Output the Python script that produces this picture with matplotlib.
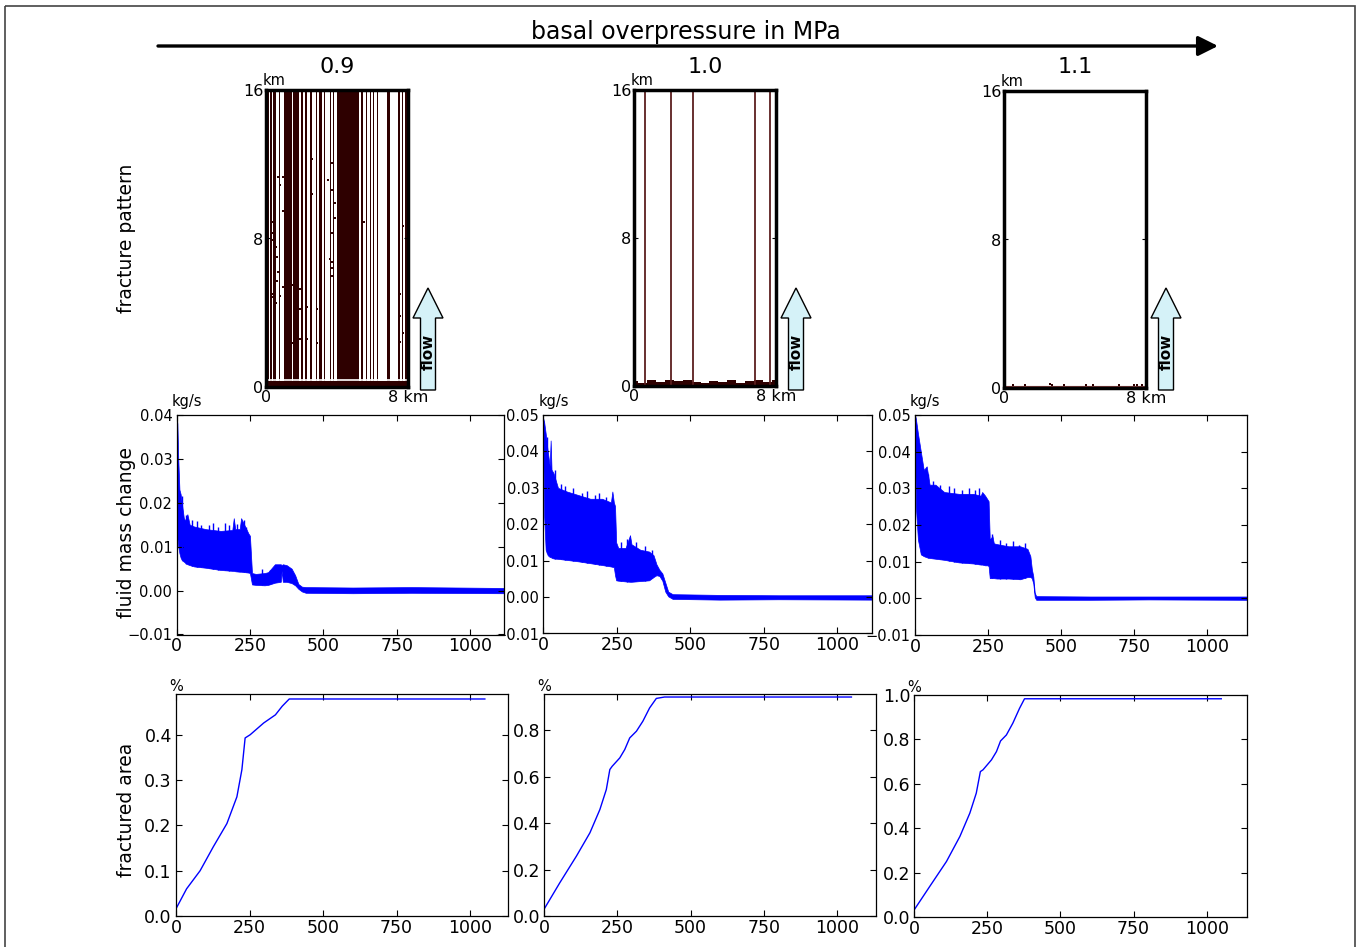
import matplotlib
matplotlib.use('Agg')
import matplotlib.pyplot as plt
import numpy as np
from matplotlib.patches import Polygon, Rectangle

W, H = 1362, 947

pressures = ['0.9', '1.0', '1.1']

# fracture pattern 0.9 MPa: dark fracture bands, km
bands_09 = [(0.0, 0.15), (0.23, 0.36), (0.41, 0.49), (0.53, 0.58), (0.73, 0.79),
            (1.04, 1.49), (1.54, 1.88), (1.96, 2.11), (2.17, 2.30), (2.49, 2.60),
            (2.79, 2.86), (2.98, 3.16), (3.28, 3.33), (3.47, 3.52), (3.62, 3.67),
            (3.77, 3.84), (3.99, 5.25), (5.35, 5.46), (5.61, 5.67), (5.84, 5.89),
            (6.03, 6.08), (6.25, 6.31), (6.82, 6.97), (7.42, 7.53), (7.68, 7.74),
            (7.85, 7.95)]
dots_09_x = [0.70, 0.98, 0.79, 0.98, 0.32, 0.51, 0.32, 0.32, 0.56, 0.60, 0.70, 0.60,
             0.98, 0.32, 0.32, 0.56, 0.79, 1.45, 1.92, 1.64, 1.92, 2.30, 2.58, 2.58,
             2.90, 3.05, 3.05, 2.90, 1.45, 1.92, 2.30, 3.05, 3.47, 3.71, 3.71, 3.86,
             3.86, 3.71, 3.58, 3.71, 3.71, 3.71, 4.84, 5.54, 7.70, 7.53, 7.53, 7.72,
             7.53, 6.85, 6.85]
dots_09_y = [11.3, 11.3, 10.9, 9.5, 8.9, 8.45, 8.3, 7.9, 7.55, 7.0, 6.2, 5.7,
             5.4, 5.0, 4.85, 4.5, 4.9, 5.5, 5.3, 9.4, 4.2, 4.3, 12.3, 10.4,
             4.2, 4.4, 3.15, 2.35, 2.35, 2.6, 2.6, 0.75, 11.15, 12.05, 10.6, 9.9,
             9.1, 8.3, 6.9, 6.75, 6.4, 6.0, 11.05, 8.9, 8.7, 5.0, 3.8, 2.9,
             2.4, 1.4, 0.7]
# fracture pattern 1.0 MPa: single fractures
lines_10 = [0.60, 2.06, 3.34, 6.79, 7.68]
base_x = [0.0, 0.5, 1.0, 1.5, 2.0, 2.5, 3.0, 3.5, 4.0, 4.5, 5.0, 5.5, 6.0, 6.5, 7.0, 7.5, 8.0]
base_10 = [0.25, 0.15, 0.30, 0.20, 0.30, 0.25, 0.35, 0.20, 0.15, 0.25, 0.20, 0.30,
           0.15, 0.25, 0.35, 0.20, 0.30]
# fracture pattern 1.1 MPa: only a thin damaged layer at the base
dots_11_x = [0.5, 1.2, 2.6, 2.7, 3.4, 4.6, 5.0, 6.5, 7.3, 7.5, 7.8]
dots_11_y = [0.14, 0.14, 0.20, 0.18, 0.14, 0.16, 0.15, 0.14, 0.16, 0.16, 0.15]

# fluid mass change (kg/s): upper / lower envelope of the oscillating signal
t1 = [0, 3, 6, 10, 14, 20, 25, 30, 37, 45, 60, 100, 150, 190, 195, 200, 215, 220, 245, 250,
      257, 270, 300, 312, 335, 355, 358, 362, 375, 392, 404, 415, 427, 440, 600, 800, 1115]
hi1 = [0.040, 0.038, 0.030, 0.023, 0.022, 0.019, 0.0165, 0.016, 0.0174, 0.0150,
       0.0146, 0.0140, 0.0136, 0.0138, 0.0165, 0.0140, 0.0140, 0.0165, 0.0130, 0.0125,
       0.0040, 0.0038, 0.0040, 0.0042, 0.0060, 0.0060, 0.0058, 0.0060, 0.0058, 0.0050,
       0.0035, 0.0015, 0.0009, 0.0008, 0.0007, 0.0008, 0.0006]
lo1 = [0.030, 0.012, 0.010, 0.0085, 0.0075, 0.0068, 0.0066, 0.0063, 0.0060, 0.0058,
       0.0055, 0.0052, 0.0047, 0.0045, 0.0045, 0.0044, 0.0043, 0.0043, 0.0041, 0.0040,
       0.0014, 0.0013, 0.0012, 0.0013, 0.0018, 0.0020, 0.0045, 0.0020, 0.0020, 0.0017,
       0.0012, 0.0004, -0.0002, -0.0005, -0.0006, -0.0005, -0.0006]
spk1_t = [18, 33, 52, 70, 85, 110, 125, 140, 165, 178, 207, 230, 238, 290, 320]
spk1_y = [0.0215, 0.0172, 0.0160, 0.0158, 0.0150, 0.0150, 0.0155, 0.0145, 0.0155, 0.0150,
          0.0152, 0.0160, 0.0145, 0.0050, 0.0048]

t2 = [0, 3, 8, 15, 22, 25, 28, 35, 50, 80, 120, 160, 200, 230, 235, 240, 244, 248, 255, 280,
      295, 300, 330, 360, 375, 385, 395, 405, 415, 425, 440, 600, 800, 1120]
hi2 = [0.049, 0.048, 0.045, 0.040, 0.036, 0.043, 0.035, 0.034, 0.030, 0.029,
       0.028, 0.027, 0.027, 0.026, 0.029, 0.026, 0.025, 0.015, 0.0135, 0.0135,
       0.017, 0.0145, 0.013, 0.0125, 0.0115, 0.009, 0.0075, 0.0065, 0.004, 0.0015,
       0.0008, 0.0006, 0.0005, 0.0005]
lo2 = [0.040, 0.022, 0.013, 0.0115, 0.011, 0.011, 0.0108, 0.0106, 0.0105, 0.0102,
       0.0098, 0.0093, 0.0088, 0.0084, 0.0083, 0.0082, 0.0060, 0.0046, 0.0045, 0.0043,
       0.0042, 0.0042, 0.0044, 0.0046, 0.0055, 0.0060, 0.0058, 0.0045, 0.0015, 0.0002,
       -0.0005, -0.0007, -0.0006, -0.0007]
spk2_t = [12, 40, 60, 75, 100, 130, 150, 175, 190, 215, 265, 285, 315, 345, 370]
spk2_y = [0.0440, 0.0350, 0.0310, 0.0305, 0.0300, 0.0285, 0.0290, 0.0280, 0.0285, 0.0275,
          0.0150, 0.0160, 0.0150, 0.0140, 0.0130]

t3 = [0, 3, 10, 20, 30, 40, 50, 70, 100, 150, 200, 225, 230, 240, 248, 252, 256, 265, 270, 280,
      320, 360, 385, 395, 400, 405, 410, 415, 600, 800, 1135]
hi3 = [0.050, 0.049, 0.045, 0.040, 0.035, 0.036, 0.031, 0.031, 0.029, 0.0285,
       0.0285, 0.028, 0.029, 0.028, 0.027, 0.0265, 0.016, 0.017, 0.015, 0.0148,
       0.0142, 0.0142, 0.0135, 0.0115, 0.008, 0.006, 0.0015, 0.0006, 0.0005, 0.0005,
       0.0005]
lo3 = [0.045, 0.025, 0.016, 0.012, 0.0115, 0.0112, 0.011, 0.0108, 0.0105, 0.0098,
       0.0095, 0.0092, 0.0092, 0.009, 0.009, 0.0088, 0.0055, 0.0055, 0.0055, 0.0054,
       0.0054, 0.0052, 0.0058, 0.0058, 0.0055, 0.004, 0.0003, -0.0004, -0.0004, -0.0003,
       -0.0004]
spk3_t = [25, 45, 60, 85, 115, 135, 160, 185, 205, 218, 262, 290, 310, 335, 355, 375]
spk3_y = [0.0360, 0.0340, 0.0320, 0.0310, 0.0305, 0.0300, 0.0295, 0.0300, 0.0295, 0.0300,
          0.0175, 0.0160, 0.0150, 0.0155, 0.0145, 0.0150]

# fractured area (%)
tb1 = [0, 36, 82, 127, 173, 207, 224, 235, 252, 298, 338, 361, 385, 1050]
fa1 = [0.016, 0.06, 0.10, 0.153, 0.204, 0.263, 0.323, 0.393, 0.40, 0.426, 0.444, 0.463, 0.479, 0.479]
tb2 = [0, 53, 110, 156, 190, 212, 224, 232, 258, 275, 292, 315, 337, 360, 383, 411, 1050]
fa2 = [0.031, 0.143, 0.258, 0.358, 0.458, 0.544, 0.63, 0.644, 0.68, 0.716, 0.766, 0.795,
       0.838, 0.895, 0.936, 0.942, 0.942]
tb3 = [0, 53, 110, 156, 190, 212, 226, 235, 264, 281, 295, 315, 337, 360, 377, 1050]
fa3 = [0.033, 0.138, 0.25, 0.363, 0.468, 0.558, 0.655, 0.663, 0.708, 0.745, 0.793, 0.82,
       0.873, 0.94, 0.983, 0.983]

mass = [(t1, lo1, hi1), (t2, lo2, hi2), (t3, lo3, hi3)]
spikes = [(spk1_t, spk1_y), (spk2_t, spk2_y), (spk3_t, spk3_y)]
area = [(tb1, fa1), (tb2, fa2), (tb3, fa3)]
mass_ylim = [(-0.01, 0.04), (-0.01, 0.05), (-0.01, 0.05)]
area_ylim = [(0, 0.49), (0, 0.955), (0, 1.0)]
area_yticks = [[0.0, 0.1, 0.2, 0.3, 0.4], [0.0, 0.2, 0.4, 0.6, 0.8], [0.0, 0.2, 0.4, 0.6, 0.8, 1.0]]
mass_xmax = [1115, 1120, 1135]
area_xmax = [1127, 1134, 1137]

# panel boxes in pixels (left, top, right, bottom)
top_px = [(266, 90, 408, 387), (634, 90, 776, 386), (1004, 91, 1146, 388)]
mid_px = [(176.5, 415, 504, 634.5), (543.3, 415, 872.5, 633.5), (915, 415, 1246.5, 635)]
bot_px = [(176, 694, 507.5, 916), (544.3, 694, 876, 916), (914.3, 695, 1246.7, 917)]

dark = '#2e0000'


def rect(b):
    l, t, r, bt = b
    return [l / W, 1 - bt / H, (r - l) / W, (bt - t) / H]


fig = plt.figure(figsize=(W / 100, H / 100), dpi=100)
bg = fig.add_axes([0, 0, 1, 1])
bg.set_xlim(0, W)
bg.set_ylim(H, 0)
bg.axis('off')

# outer frame
bg.add_patch(Rectangle((5, 6), 1350, 960, fill=False, ec='#444444', lw=1.2))

bg.text(686, 32, 'basal overpressure in MPa', fontsize=17, ha='center', va='center')
bg.annotate('', xy=(1218, 46), xytext=(158, 46),
            arrowprops=dict(arrowstyle='-|>,head_length=0.6,head_width=0.3',
                            lw=2.4, color='k', shrinkA=0, shrinkB=0, mutation_scale=20))

bg.text(126, 238, 'fracture pattern', fontsize=13.5, rotation=90, ha='center', va='center')
bg.text(126, 532, 'fluid mass change', fontsize=13.5, rotation=90, ha='center', va='center')
bg.text(126, 810, 'fractured area', fontsize=13.5, rotation=90, ha='center', va='center')

for i in range(3):
    l, t, r, b = top_px[i]
    bg.text((l + r) / 2, 67, pressures[i], fontsize=16, ha='center', va='center')
    bg.text(l - 3, t - 2, 'km', fontsize=10.5, ha='left', va='bottom')
    # flow arrow
    pts = [(r + 12.5, 390), (r + 12.5, 318), (r + 5, 318), (r + 20, 288),
           (r + 35, 318), (r + 27.5, 318), (r + 27.5, 390)]
    bg.add_patch(Polygon(pts, closed=True, fc='#d5f2f8', ec='k', lw=1))
    bg.text(r + 20, 352, 'flow', fontsize=11, fontweight='bold', rotation=90,
            ha='center', va='center')

    ml = mid_px[i]
    bg.text(ml[0] - 5, ml[1] - 14, 'kg/s', fontsize=10.5, ha='left', va='center')
    bl = bot_px[i]
    bg.text(bl[0] - 7, bl[1] - 8, '%', fontsize=10.5, ha='left', va='center')

# fracture pattern panels
for i in range(3):
    ax = fig.add_axes(rect(top_px[i]))
    if i == 0:
        for a, e in bands_09:
            ax.axvspan(a, e, color=dark, lw=0)
        ax.axhspan(0, 0.3, color=dark, lw=0)
        ax.axhline(0.36, color='white', lw=1.2)
        ax.plot(dots_09_x, dots_09_y, 's', ms=1.8, color=dark, mew=0)
    elif i == 1:
        ax.vlines(lines_10, 0, 16, color='#5c1f1f', lw=1.3)
        ax.fill_between(base_x, 0, base_10, step='mid', color=dark, lw=0)
    else:
        ax.axhline(0.12, color='#7a3a3a', lw=0.8)
        ax.plot(dots_11_x, dots_11_y, 's', ms=2, color=dark, mew=0)
    ax.set_xlim(0, 8)
    ax.set_ylim(0, 16)
    ax.set_xticks([0, 8])
    ax.set_xticklabels(['0', '8 km'])
    ax.set_yticks([0, 8, 16])
    ax.set_yticklabels(['0', '8', '16'])
    ax.tick_params(direction='in', length=3, width=0.8, top=True, right=True,
                   labelsize=11.5, pad=2)
    for s in ax.spines.values():
        s.set_linewidth(2.5)

# fluid mass change panels
for i in range(3):
    ax = fig.add_axes(rect(mid_px[i]))
    t, lo, hi = mass[i]
    ax.fill_between(t, lo, hi, color='b', lw=0.5)
    st, sy = spikes[i]
    ax.vlines(st, np.interp(st, t, lo), sy, color='b', lw=1)
    ax.set_xlim(0, mass_xmax[i])
    ax.set_ylim(*mass_ylim[i])
    ax.set_xticks([0, 250, 500, 750, 1000])
    ax.set_yticks([v / 100 for v in range(-1, int(round(mass_ylim[i][1] * 100)) + 1)])
    ax.tick_params(axis='x', labelsize=12.5, pad=2)
    ax.tick_params(axis='y', labelsize=10.5, pad=3)
    ax.tick_params(direction='in', length=4, width=0.8, top=True, right=True)
    for s in ax.spines.values():
        s.set_linewidth(0.9)

# fractured area panels
for i in range(3):
    ax = fig.add_axes(rect(bot_px[i]))
    t, fa = area[i]
    ax.plot(t, fa, color='b', lw=1)
    ax.set_xlim(0, area_xmax[i])
    ax.set_ylim(*area_ylim[i])
    ax.set_xticks([0, 250, 500, 750, 1000])
    ax.set_yticks(area_yticks[i])
    ax.tick_params(axis='x', labelsize=12.5, pad=2)
    ax.tick_params(axis='y', labelsize=12.5, pad=3)
    ax.tick_params(direction='in', length=4, width=0.8, top=True, right=True)
    for s in ax.spines.values():
        s.set_linewidth(0.9)

fig.savefig('out.png', dpi=100)
